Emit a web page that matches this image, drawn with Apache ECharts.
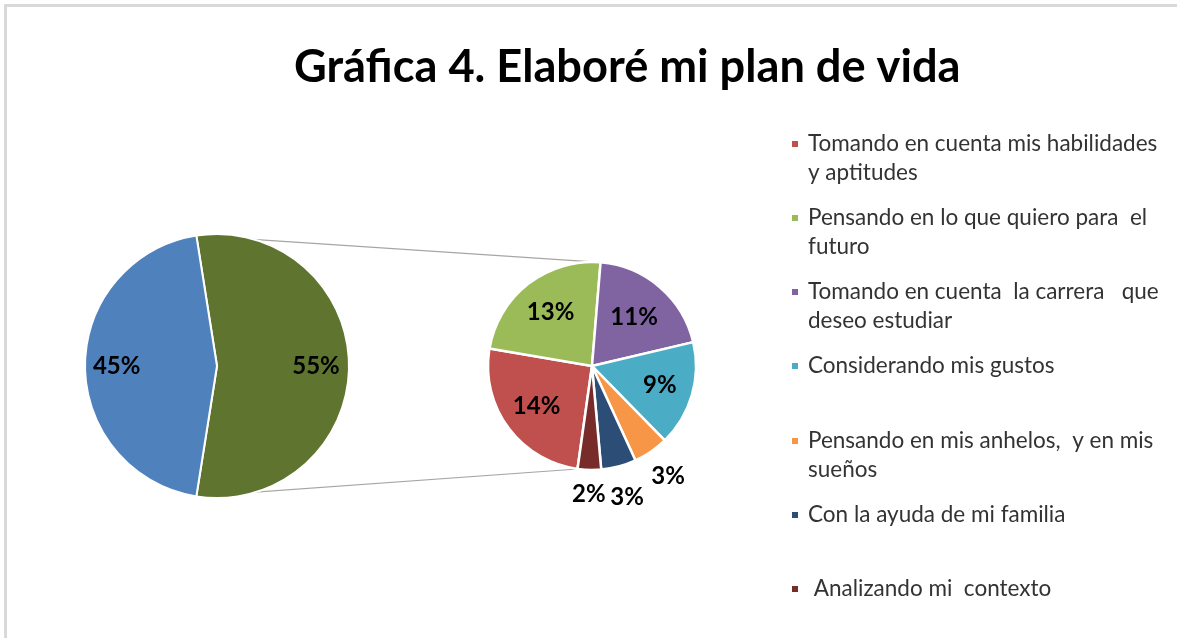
<!DOCTYPE html>
<html>
<head>
<meta charset="utf-8">
<script src="https://cdn.jsdelivr.net/npm/echarts@6/dist/echarts.min.js"></script>
<style>
html,body{margin:0;padding:0;background:#fff;}
#chart{width:1177px;height:638px;}
</style>
</head>
<body>
<div id="chart"></div>
<script>
// ---- data ----
const titleText = 'Gráfica 4. Elaboré mi plan de vida';
const mainCategories = ['Plan de vida', 'Otro'];
const mainValues = [55, 45];
const detailCategories = [
  'Tomando en cuenta mis habilidades y aptitudes',
  'Pensando en lo que quiero para  el futuro',
  'Tomando en cuenta  la carrera   que deseo estudiar',
  'Considerando mis gustos',
  'Pensando en mis anhelos,  y en mis sueños',
  'Con la ayuda de mi familia',
  ' Analizando mi  contexto'
];
const detailLegendLabels = [
  'Tomando en cuenta mis habilidades\ny aptitudes',
  'Pensando en lo que quiero para  el\nfuturo',
  'Tomando en cuenta  la carrera   que\ndeseo estudiar',
  'Considerando mis gustos',
  'Pensando en mis anhelos,  y en mis\nsueños',
  'Con la ayuda de mi familia',
  ' Analizando mi  contexto'
];
const detailValues = [14, 13, 11, 9, 3, 3, 2];

// ---- styles / layout ----
const mainColors = ['#5f752f', '#4f81bd'];
const detailColors = ['#c0504d', '#9bbb59', '#8064a2', '#4bacc6', '#f79646', '#2c4d75', '#772c2a'];
const FONT = 'Lato';
const mainC = [217, 366], mainR = 132;
const detC = [592, 366], detR = 104;
const mainLabelFrac = [0.75, 0.76];
const detLabelFrac = [0.66, 0.65, 0.62, 0.68, 1.29, 1.31, 1.23];
const legendIconCenters = [144, 218, 292, 366, 441, 515, 589];
const LH = 29;

const mainTotal = mainValues.reduce((a, b) => a + b, 0);
const detTotal = detailValues.reduce((a, b) => a + b, 0);
// main pie: first (detailed) slice centred on the right
const mainStart = (mainValues[0] / mainTotal) * 180;
// detail pie: clockwise position (from top) where the first slice starts
const redStartCW = 188;
const detStart = 90 - redStartCW;

function radialLabel(c, r, fracs) {
  return function (params) {
    const lr = params.labelRect;
    const lx = lr.x + lr.width / 2, ly = lr.y + lr.height / 2;
    const dx = lx - c[0], dy = ly - c[1];
    const d = Math.hypot(dx, dy) || 1;
    const f = fracs[params.dataIndex];
    return { x: c[0] + dx / d * f * r, y: c[1] + dy / d * f * r, align: 'center', verticalAlign: 'middle' };
  };
}

// connector endpoints from data angles
const rad = Math.PI / 180;
const mTop = [mainC[0] + mainR * Math.cos(mainStart * rad), mainC[1] - mainR * Math.sin(mainStart * rad)];
const mBot = [mainC[0] + mainR * Math.cos(-mainStart * rad), mainC[1] - mainR * Math.sin(-mainStart * rad)];
const greenEndCW = redStartCW + (detailValues[0] + detailValues[1]) / detTotal * 360;
const dTop = [detC[0] + detR * Math.sin(greenEndCW * rad), detC[1] - detR * Math.cos(greenEndCW * rad)];
const dBot = [detC[0] + detR * Math.sin(redStartCW * rad), detC[1] - detR * Math.cos(redStartCW * rad)];

// for two-line legend entries the marker sits beside the first line:
// a tall icon box (square at its top) keeps the text block aligned to it
const tallH = LH + 8;
const tallIcon = 'path://M0,0h8v8h-8zM0,' + tallH;

const legends = detailCategories.map((name, i) => {
  const twoLine = detailLegendLabels[i].indexOf('\n') >= 0;
  return {
    data: [name],
    left: 790,
    top: legendIconCenters[i] - 14.5,
    orient: 'vertical',
    padding: 0,
    itemWidth: 8,
    itemHeight: twoLine ? tallH : 8,
    icon: twoLine ? tallIcon : 'rect',
    selectedMode: false,
    formatter: () => detailLegendLabels[i],
    textStyle: {
      fontFamily: FONT, fontSize: 22.5, color: '#333', lineHeight: LH,
      padding: [0, 0, 0, 4]
    }
  };
});

const chart = echarts.init(document.getElementById('chart'), null, { renderer: 'canvas' });
chart.setOption({
  backgroundColor: '#fff',
  animation: false,
  title: {
    text: titleText,
    left: 289, top: 40,
    textStyle: { fontFamily: FONT, fontSize: 45.2, fontWeight: 'bold', color: '#000' }
  },
  legend: legends,
  graphic: [
    { type: 'polyline', z: 0, silent: true, shape: { points: [[5.5, 2000], [5.5, 5.5], [2000, 5.5]] }, style: { fill: null, stroke: '#d9d9d9', lineWidth: 3 } },
    { type: 'line', z: 0, silent: true, shape: { x1: mTop[0], y1: mTop[1], x2: dTop[0], y2: dTop[1] }, style: { stroke: '#a6a6a6', lineWidth: 1.2 } },
    { type: 'line', z: 0, silent: true, shape: { x1: mBot[0], y1: mBot[1], x2: dBot[0], y2: dBot[1] }, style: { stroke: '#a6a6a6', lineWidth: 1.2 } }
  ],
  series: [
    {
      type: 'pie', z: 5,
      center: mainC, radius: mainR,
      startAngle: mainStart, clockwise: true,
      silent: true,
      data: mainCategories.map((n, i) => ({ name: n, value: mainValues[i], itemStyle: { color: mainColors[i] } })),
      itemStyle: { borderColor: '#fff', borderWidth: 2 },
      label: { show: true, position: 'inside', formatter: '{c}%', fontFamily: FONT, fontSize: 24, fontWeight: 'bold', color: '#000' },
      labelLine: { show: false },
      labelLayout: radialLabel(mainC, mainR, mainLabelFrac)
    },
    {
      type: 'pie', z: 5,
      center: detC, radius: detR,
      startAngle: detStart, clockwise: true,
      silent: true,
      data: detailCategories.map((n, i) => ({ name: n, value: detailValues[i], itemStyle: { color: detailColors[i] } })),
      itemStyle: { borderColor: '#fff', borderWidth: 2.5 },
      label: { show: true, position: 'inside', formatter: '{c}%', fontFamily: FONT, fontSize: 24, fontWeight: 'bold', color: '#000' },
      labelLine: { show: false },
      labelLayout: radialLabel(detC, detR, detLabelFrac)
    }
  ]
});
</script>
</body>
</html>
